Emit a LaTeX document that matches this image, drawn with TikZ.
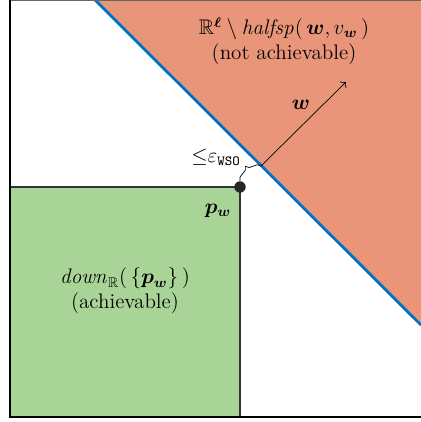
\documentclass[tikz,border=0pt]{standalone}
\usepackage{amsmath,amssymb,bm}
\usepackage{xcolor}
\usetikzlibrary{positioning, arrows.meta, calc, decorations.pathreplacing}

\definecolor{nonach}{RGB}{232,149,122}
\definecolor{ach}{RGB}{169,212,152}
\definecolor{hplane}{RGB}{0,114,196}

\begin{document}
\begin{tikzpicture}[
    x=0.02cm, y=0.02cm,
    label/.style={align=center, inner sep=1pt, font=\large},
    axis/.style={line width=0.8pt, black},
    vec/.style={->, thin}
]
\useasboundingbox (0,0) rectangle (421,422);

% Regione non raggiungibile
\fill[nonach] (95,422) -- (421,422) -- (421,97) -- cycle;

% Regione raggiungibile
\filldraw[fill=ach, draw=black!80, line width=0.6pt] (10,5) rectangle (240,235);

% Iperpiano
\draw[hplane, line width=1.6pt] (95,422) -- (421,97);

% Assi
\draw[black!60, line width=0.8pt] (10,421.5) -- (421,421.5);
\draw[axis] (10,422) -- (10,5) -- (421,5);

% Punto e piede
\node[circle, fill=black!85, inner sep=0pt, minimum size=6.5pt] (pw) at (240,235) {};
\coordinate (foot) at (261,256);
\coordinate (tip) at (346,340);

% Vettore w
\draw[vec] (foot) -- (tip);
\node[label] (wlab) at (301,317) {$\bm{w}$};

% Distanza
\draw[decorate, decoration={brace, amplitude=5pt}, thin] (pw.north) -- (foot);
\node[label] (eps) at (216,265) {${\leq}\varepsilon_{\texttt{WSO}}$};

% Testi
\node[label] (half) at (284,381) {$\mathbb{R}^{\bm{\ell}}\setminus \mathit{halfsp}(\,\bm{w},v_{\bm{w}}\,)$\\(not achievable)};
\node[label] (plab) at (218,211) {$\bm{p}_{\bm{w}}$};
\node[label] (down) at (125,131) {$\mathit{down}_{\mathbb{R}}(\,\{\bm{p}_{\bm{w}}\}\,)$\\(achievable)};

\end{tikzpicture}
\end{document}
